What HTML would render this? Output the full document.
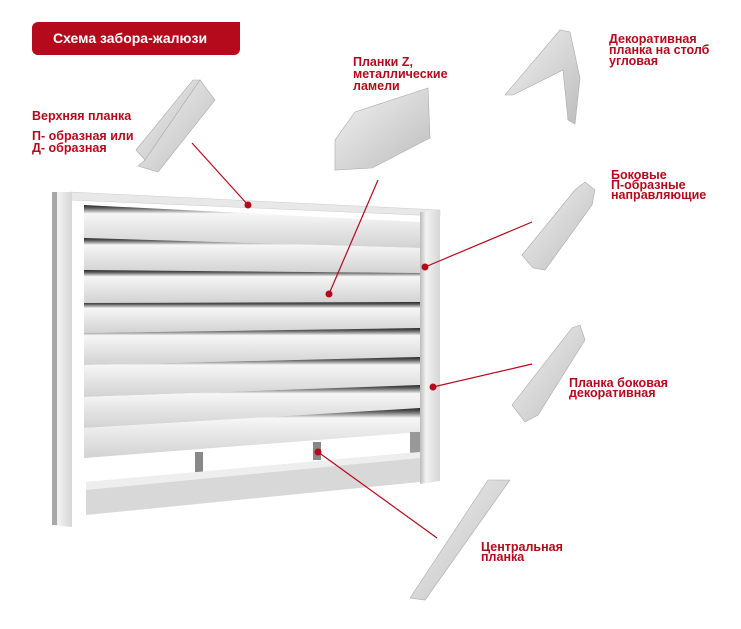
<!DOCTYPE html>
<html><head><meta charset="utf-8"><style>
body{margin:0;background:#fff;width:741px;height:629px;overflow:hidden;font-family:"Liberation Sans",sans-serif}
.t{position:absolute;color:#b5091c;font-weight:bold;font-size:12.5px;line-height:12px}
</style></head><body>
<svg width="741" height="629" style="position:absolute;left:0;top:0">
<defs>
<linearGradient id="sl" x1="0" y1="0" x2="0" y2="1"><stop offset="0" stop-color="#222"/><stop offset=".08" stop-color="#666"/><stop offset=".2" stop-color="#f6f6f6"/><stop offset=".55" stop-color="#e6e6e6"/><stop offset="1" stop-color="#d2d2d2"/></linearGradient>
<linearGradient id="pv" x1="0" y1="0" x2="1" y2="0"><stop offset="0" stop-color="#bbb"/><stop offset=".3" stop-color="#f2f2f2"/><stop offset="1" stop-color="#d6d6d6"/></linearGradient>
<linearGradient id="pc" x1="0" y1="0" x2="1" y2="1"><stop offset="0" stop-color="#f2f2f2"/><stop offset="1" stop-color="#bdbdbd"/></linearGradient>
</defs>
<polygon points="70,200 425,218 425,485 70,520" fill="#fff"/>
<g fill="url(#sl)">
<polygon points="84,205 420,222 420,248 84,238"/>
<polygon points="84,238 420,248 420,273 84,270"/>
<polygon points="84,270 420,273 420,302 84,303"/>
<polygon points="84,303 420,302 420,328 84,333"/>
<polygon points="84,333 420,328 420,357 84,365"/>
<polygon points="84,365 420,357 420,385 84,397"/>
<polygon points="84,397 420,385 420,408 84,428"/>
<polygon points="84,428 420,408 420,432 84,458"/>
</g>
<rect x="195" y="452" width="8" height="20" fill="#888"/>
<rect x="313" y="442" width="8" height="18" fill="#888"/>
<rect x="410" y="432" width="12" height="22" fill="#999"/>
<polygon points="86,482 420,452 420,482 86,515" fill="#d8d8d8"/>
<polygon points="86,482 420,452 420,458 86,490" fill="#eee"/>
<polygon points="70,192 440,210 440,216 70,200" fill="#e8e8e8" stroke="#ccc" stroke-width=".5"/>
<polygon points="52,192 72,192 72,527 52,525" fill="url(#pv)"/>
<polygon points="52,192 57,192 57,525 52,525" fill="#a8a8a8"/>
<polygon points="420,212 440,210 440,481 420,484" fill="url(#pv)"/>
<g fill="url(#pc)" stroke="#aaa" stroke-width=".6">
<polygon points="136,150 193,80 200,80 145,160"/>
<polygon points="145,160 200,80 215,100 158,172 138,166"/>
<polygon points="335,170 335,140 355,112 428,88 430,138 372,168" />
<polygon points="505,95 560,30 570,32 580,78 575,124 568,120 563,70 513,95"/>
<polygon points="522,255 575,190 585,182 595,190 592,205 545,270 533,268"/>
<polygon points="512,405 572,328 580,325 585,340 538,415 525,422"/>
<polygon points="410,598 488,480 510,480 425,600"/>
</g>
<g stroke="#b5091c" stroke-width="1.2">
<line x1="192" y1="143" x2="248" y2="205"/>
<line x1="378" y1="180" x2="329" y2="294"/>
<line x1="532" y1="222" x2="425" y2="267"/>
<line x1="532" y1="364" x2="433" y2="387"/>
<line x1="318" y1="452" x2="437" y2="538"/>
</g>
<g fill="#b5091c">
<circle cx="248" cy="205" r="3.5"/><circle cx="329" cy="294" r="3.5"/><circle cx="425" cy="267" r="3.5"/><circle cx="433" cy="387" r="3.5"/><circle cx="318" cy="452" r="3.5"/>
</g>
</svg>
<div style="position:absolute;left:32px;top:22px;width:208px;height:33px;background:#b5091c;border-radius:6px 0 6px 6px;color:#fff;font-weight:bold;font-size:14px;line-height:33px;text-indent:21px">Схема забора-жалюзи</div>
<div class="t" style="left:32px;top:110px">Верхняя планка</div>
<div class="t" style="left:32px;top:130px">П- образная или<br>Д- образная</div>
<div class="t" style="left:353px;top:56px">Планки Z,<br>металлические<br>ламели</div>
<div class="t" style="left:609px;top:34px;line-height:11px">Декоративная<br>планка на столб<br>угловая</div>
<div class="t" style="left:611px;top:170px;line-height:10px">Боковые<br>П-образные<br>направляющие</div>
<div class="t" style="left:569px;top:378px;line-height:10px">Планка боковая<br>декоративная</div>
<div class="t" style="left:481px;top:542px;line-height:10px">Центральная<br>планка</div>
</body></html>
